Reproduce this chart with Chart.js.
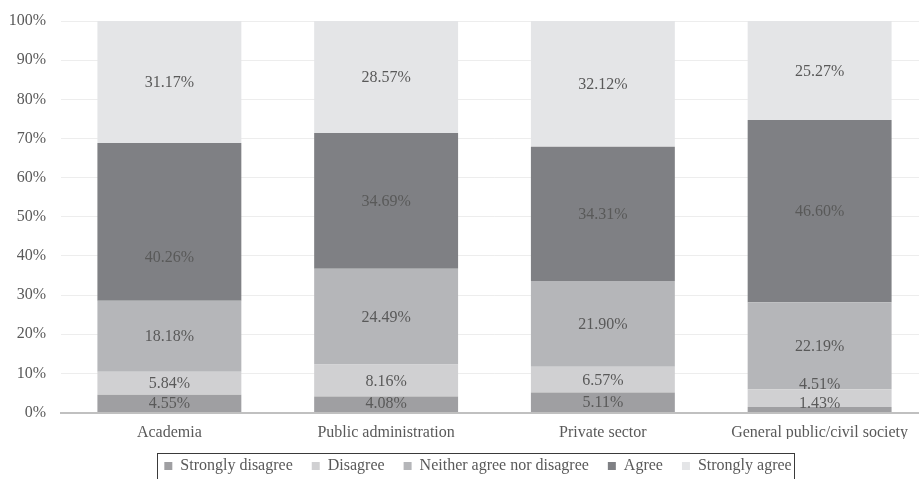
<!DOCTYPE html>
<html>
<head>
<meta charset="utf-8">
<script src="https://cdn.jsdelivr.net/npm/chart.js@4.4.1/dist/chart.umd.min.js"></script>
<style>
  html, body { margin: 0; padding: 0; background: #fff; overflow: hidden; }
  #wrap { position: relative; width: 928px; height: 484px; }
</style>
</head>
<body>
<div id="wrap"><canvas id="chart"></canvas></div>
<script>
// --- Survey data (share of answers per sector, in %) ---
const sectors = ['Academia', 'Public administration', 'Private sector', 'General public/civil society'];
const stronglyDisagree = [4.55, 4.08, 5.11, 1.43];
const disagree = [5.84, 8.16, 6.57, 4.51];
const neither = [18.18, 24.49, 21.90, 22.19];
const agree = [40.26, 34.69, 34.31, 46.60];
const stronglyAgree = [31.17, 28.57, 32.12, 25.27];
const yTicks = [0, 10, 20, 30, 40, 50, 60, 70, 80, 90, 100];

const SERIF = '"Liberation Serif", "Times New Roman", serif';
const TEXT_GREY = '#595959';
const LEGEND_SHIFT = 14;
// hand-moved labels: "dataset,index" -> px down
const LABEL_NUDGE = { '3,0': 35 };

function makeSet(label, data, color) {
    return { label: label, data: data, backgroundColor: color, borderWidth: 0 };
}

// Centered value labels; small segments get pushed up so they don't collide
const stackLabels = {
    id: 'stackLabels',
    afterDatasetsDraw(chart) {
        const ctx = chart.ctx;
        const area = chart.chartArea;
        const lineH = 19;
        ctx.save();
        ctx.font = '16px ' + SERIF;
        ctx.fillStyle = TEXT_GREY;
        ctx.textAlign = 'center';
        ctx.textBaseline = 'middle';
        sectors.forEach((s, i) => {
            let prevY = area.bottom - lineH / 2 + lineH;
            chart.data.datasets.forEach((ds, d) => {
                const bar = chart.getDatasetMeta(d).data[i];
                let y = (bar.y + bar.base) / 2;
                y = Math.min(y, prevY - lineH);
                prevY = y;
                y += LABEL_NUDGE[d + ',' + i] || 0;
                ctx.fillText(ds.data[i].toFixed(2) + '%', bar.x, y + 1);
            });
        });
        ctx.restore();
    }
};

// Legend sits a little right of center, inside a frame whose bottom runs off the canvas
const legendFrame = {
    id: 'legendFrame',
    afterLayout(chart) {
        chart.legend.left += LEGEND_SHIFT;
        chart.legend.right += LEGEND_SHIFT;
    },
    afterDraw(chart) {
        const lg = chart.legend;
        if (!lg) return;
        const ctx = chart.ctx;
        let left = Infinity, right = -Infinity;
        lg.legendHitBoxes.forEach(b => {
            left = Math.min(left, b.left);
            right = Math.max(right, b.left + b.width);
        });
        ctx.save();
        ctx.strokeStyle = '#3a3a3a';
        ctx.lineWidth = 1;
        ctx.strokeRect(Math.round(left - 7) + 0.5, Math.round(lg.top + 14) + 0.5,
            Math.round(right - left + 10), 60);
        ctx.restore();
    }
};

new Chart(document.getElementById('chart'), {
    type: 'bar',
    data: {
        labels: sectors,
        datasets: [
            makeSet('Strongly disagree', stronglyDisagree, '#9f9fa2'),
            makeSet('Disagree', disagree, '#d0d0d2'),
            makeSet('Neither agree nor disagree', neither, '#b5b6b9'),
            makeSet('Agree', agree, '#7f8084'),
            makeSet('Strongly agree', stronglyAgree, '#e4e5e7')
        ]
    },
    options: {
        responsive: true,
        maintainAspectRatio: false,
        animation: false,
        datasets: { bar: { categoryPercentage: 1, barPercentage: 0.664 } },
        layout: { padding: { top: 21, left: 0, right: 0, bottom: 0 } },
        scales: {
            x: {
                stacked: true,
                afterFit: s => { s.height = 26.5; },
                grid: { display: false, drawTicks: false },
                border: { color: '#c0c0c0', width: 2 },
                ticks: { color: TEXT_GREY, font: { family: SERIF, size: 16 }, padding: 11 }
            },
            y: {
                stacked: true,
                min: 0,
                max: 100,
                z: 1,
                afterFit: s => { s.width = 61; },
                afterBuildTicks: s => { s.ticks = yTicks.map(v => ({ value: v })); },
                // invisible tick marks keep the labels 15px off the plot
                grid: { color: 'rgba(215,215,215,0.45)', lineWidth: 1, tickLength: 15, tickColor: 'rgba(0,0,0,0)' },
                border: { display: false },
                ticks: {
                    color: TEXT_GREY,
                    padding: 0,
                    font: { family: SERIF, size: 16 },
                    callback: v => v + '%'
                }
            }
        },
        plugins: {
            tooltip: { enabled: false },
            legend: {
                position: 'bottom',
                labels: {
                    color: TEXT_GREY,
                    font: { family: SERIF, size: 16 },
                    boxWidth: 8,
                    boxHeight: 8,
                    padding: 19
                }
            }
        }
    },
    plugins: [stackLabels, legendFrame]
});
</script>
</body>
</html>
